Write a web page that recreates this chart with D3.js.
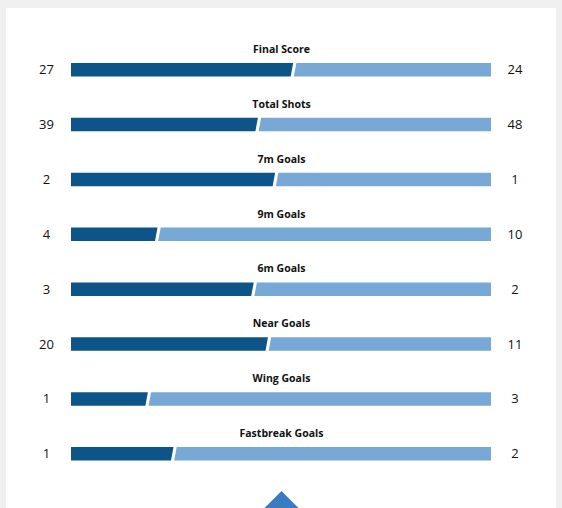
<!DOCTYPE html>
<html><head><meta charset="utf-8">
<script src="https://cdn.jsdelivr.net/npm/d3@7"></script>
<style>
html,body{margin:0;padding:0;background:#f0f0f0;}
svg{display:block;}
</style></head>
<body>
<svg id="chart" width="562" height="508"></svg>
<script>
const categories = ["Final Score","Total Shots","7m Goals","9m Goals","6m Goals","Near Goals","Wing Goals","Fastbreak Goals"];
const homeValues = [27,39,2,4,3,20,1,1];
const awayValues = [24,48,1,10,2,11,3,2];
// share of bar taken by the home (dark) side, in percent
const homeShare = [52.9,44.5,48.6,20.6,43.5,46.9,18.3,24.4];

const W=562,H=508;
const svg=d3.select("#chart");
svg.append("rect").attr("x",0).attr("y",0).attr("width",W).attr("height",H).attr("fill","#f0f0f0");
svg.append("rect").attr("x",6).attr("y",8).attr("width",550).attr("height",H).attr("fill","#ffffff");

const x=d3.scaleLinear().domain([0,100]).range([71,491]);
const y=d3.scaleBand().domain(categories).range([63,63+8*54.86]).paddingInner(0);
const barH=13.5, slant=2.5, gap=3.2;
const dark="#0d5489", light="#78a8d5";

const rows=svg.selectAll("g.row").data(categories).join("g").attr("class","row")
  .attr("transform",d=>`translate(0,${y(d)})`);

rows.append("path").attr("fill",dark).attr("d",(d,i)=>{
  const s=x(homeShare[i]);
  return `M${x(0)},0L${s},0L${s-slant},${barH}L${x(0)},${barH}Z`;
});
rows.append("path").attr("fill",light).attr("d",(d,i)=>{
  const s=x(homeShare[i])+gap;
  return `M${s},0L${x(100)},0L${x(100)},${barH}L${s-slant},${barH}Z`;
});
rows.append("text").text(d=>d).attr("x",281.5).attr("y",-10)
  .attr("text-anchor","middle").attr("font-family","'Open Sans', sans-serif")
  .attr("font-weight","bold").attr("font-size",10.5).attr("fill","#111");
rows.append("text").text((d,i)=>homeValues[i]).attr("x",46.5).attr("y",barH/2+4.5)
  .attr("text-anchor","middle").attr("font-family","'Open Sans', sans-serif")
  .attr("font-size",13).attr("fill","#111");
rows.append("text").text((d,i)=>awayValues[i]).attr("x",515).attr("y",barH/2+4.5)
  .attr("text-anchor","middle").attr("font-family","'Open Sans', sans-serif")
  .attr("font-size",13).attr("fill","#111");

// triangle toggle at bottom
svg.append("path").attr("fill","#3a7cc2")
  .attr("d","M281.5,491L300,509.5L263,509.5Z");
</script>
</body></html>
